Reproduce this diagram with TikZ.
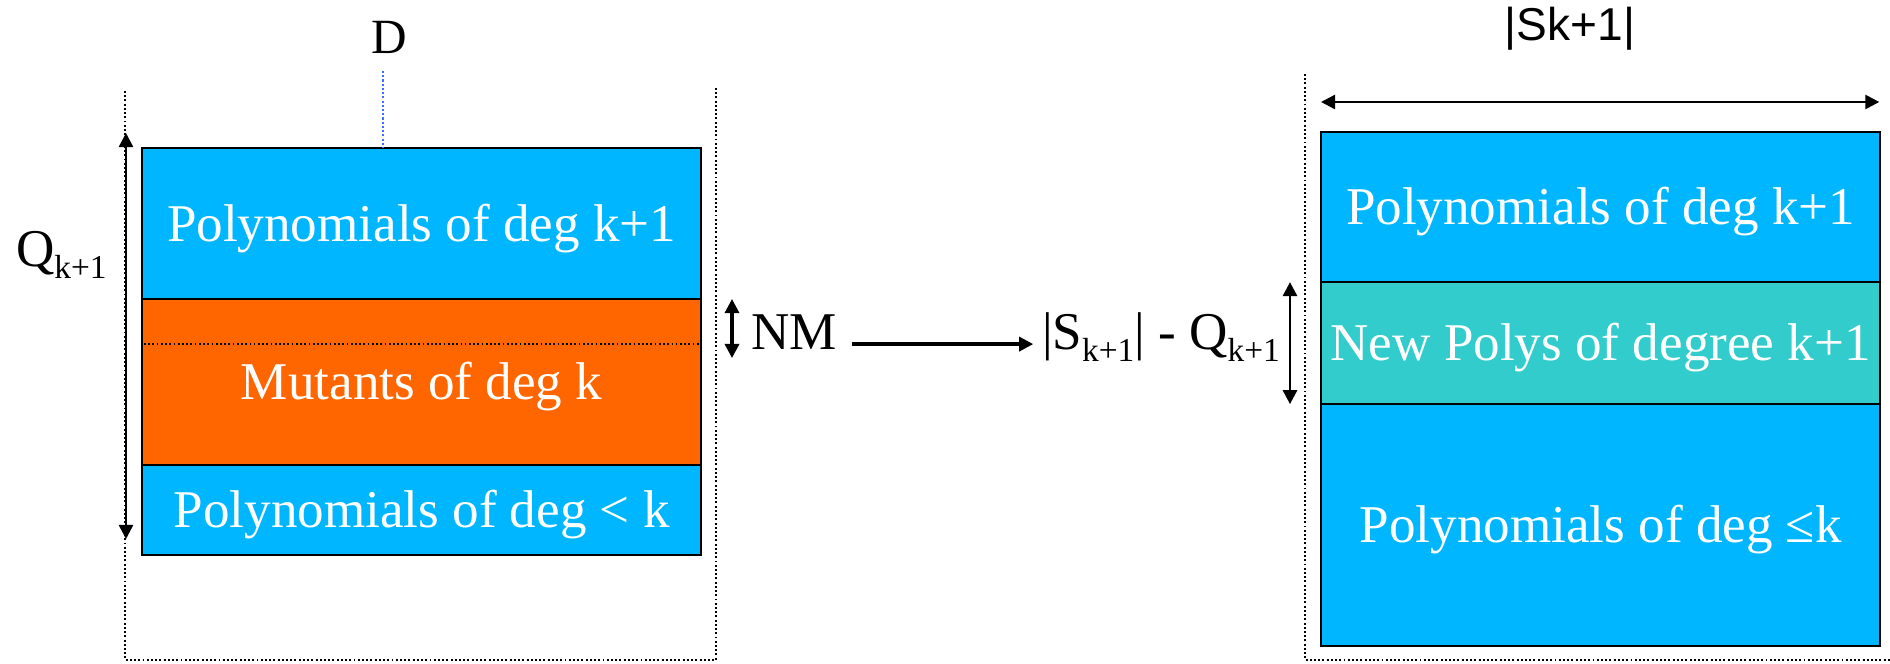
\documentclass[tikz,border=0pt]{standalone}
\usepackage{fontspec}
\setmainfont{Liberation Serif}
\newfontfamily\arialfont{Liberation Sans}
\usetikzlibrary{arrows.meta}
\definecolor{polyblue}{RGB}{0,183,255}
\definecolor{mutorange}{RGB}{255,102,0}
\definecolor{newteal}{RGB}{51,204,204}
\definecolor{dlineblue}{RGB}{60,110,255}
\newcommand{\subk}{\raisebox{-3.6pt}{\fontsize{9.5}{10}\selectfont k+1}}
\begin{document}
\begin{tikzpicture}[x=0.01cm,y=-0.01cm,
  layer/.style={draw=black, line width=0.6pt, anchor=north west, inner sep=0pt, outer sep=0pt,
    text=white, font=\fontsize{15.1}{18}\selectfont, text height=10pt, text depth=0pt,
    minimum width=5.59cm},
  lbl/.style={inner sep=0pt, outer sep=0pt, font=\fontsize{15.1}{18}\selectfont},
  frame/.style={line width=0.55pt, dash pattern=on 0.55pt off 0.65pt},
  tip/.style={-{Triangle[length=4pt,width=4pt]}},
  dtip/.style={{Triangle[length=4pt,width=4pt]}-{Triangle[length=4pt,width=4pt]}},
  ]
\useasboundingbox (0,0) rectangle (1890,663);
% left stack
\node[layer, fill=polyblue, minimum height=1.51cm] (la) at (142,148) {Polynomials of deg k+1};
\node[layer, fill=mutorange, minimum height=1.66cm] (lb) at (la.south west) {Mutants of deg k};
\node[layer, fill=polyblue, minimum height=0.90cm] (lc) at (lb.south west) {Polynomials of deg < k};
\draw[line width=0.5pt, dash pattern=on 0.5pt off 0.7pt] ([xshift=0.02cm]lb.west |- 0,344) -- ([xshift=-0.01cm]lb.east |- 0,344);
% right stack
\node[layer, fill=polyblue, minimum height=1.50cm] (ra) at (1321,132) {Polynomials of deg k+1};
\node[layer, fill=newteal, minimum height=1.22cm] (rb) at (ra.south west) {New Polys of degree k+1};
\node[layer, fill=polyblue, minimum height=2.42cm] (rc) at (rb.south west) {Polynomials of deg ≤k};
% frames
\draw[frame] (125,91) -- (125,660) -- (716,660) -- (716,87);
\draw[frame] (1305,74) -- (1305,660) -- (1890,660);
% D label
\node[lbl, font=\fontsize{14}{16}\selectfont] (d) at (389,37) {D};
\coordinate (dtop) at (383,71);
\draw[dlineblue, line width=0.5pt, dash pattern=on 0.6pt off 0.6pt] (dtop) -- (dtop |- la.north);
% Q label and arrow
\node[lbl, anchor=base west] (q) at (16,266) {Q\subk};
\coordinate (qa) at (126,133);
\coordinate (qb) at (126,539);
\draw[dtip, line width=0.7pt] (qa) -- (qb);
% NM
\coordinate (nma) at (732,299);
\coordinate (nmb) at (732,358);
\draw[dtip, line width=0.9pt] (nma) -- (nmb);
\node[lbl, anchor=base west, text height=9pt, text depth=6.2pt] (nm) at (751,349) {NM};
\node[lbl, anchor=base west, text height=9pt, text depth=6.2pt] (sq) at (1042,349) {|S\subk| - Q\subk};
\draw[tip, line width=0.95pt, shorten <=4.5pt, shorten >=2.5pt] (nm.east) -- (sq.west);
% right vertical double arrow beside teal
\draw[dtip, line width=0.8pt] ([xshift=-0.31cm]rb.north west) -- ([xshift=-0.31cm]rb.south west);
% top width arrow
\draw[dtip, line width=0.7pt] ([yshift=0.3cm]ra.north west) -- ([yshift=0.3cm,xshift=-0.01cm]ra.north east);
\node[lbl, font=\arialfont\fontsize{13.1}{15}\selectfont] (sk) at (1570,29) {|Sk+1|};
\end{tikzpicture}
\end{document}
